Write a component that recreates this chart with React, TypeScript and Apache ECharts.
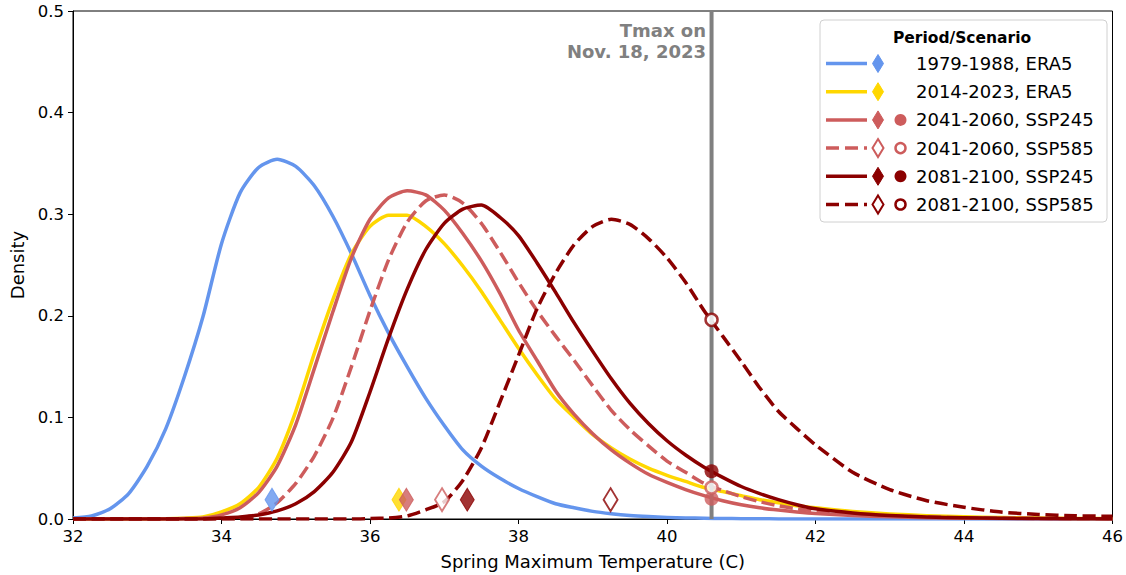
import React, { useEffect, useRef } from "react";
import * as echarts from "echarts";

const temps = [
  32, 32.25, 32.5, 32.75, 33, 33.25, 33.5, 33.75, 34, 34.25, 34.5, 34.75, 35, 35.25, 35.5, 35.75,
  36, 36.25, 36.5, 36.75, 37, 37.25, 37.5, 37.75, 38, 38.25, 38.5, 38.75, 39, 39.25, 39.5, 39.75,
  40, 40.25, 40.5, 40.75, 41, 41.25, 41.5, 41.75, 42, 42.5, 43, 43.5, 44, 44.5, 45, 45.5, 46,
];

const density1979ERA5 = [
  0.001, 0.003, 0.01, 0.025, 0.052, 0.089, 0.14, 0.199, 0.271, 0.321, 0.346, 0.354, 0.347, 0.328, 0.298, 0.261,
  0.22, 0.183, 0.15, 0.119, 0.092, 0.068, 0.052, 0.04, 0.03, 0.022, 0.015, 0.011, 0.0075, 0.0052, 0.0035, 0.0024,
  0.0016, 0.0011, 0.0007, 0.0005, 0.0003, 0.0002, 0.0001, 0.0001, 0, 0, 0, 0, 0, 0, 0, 0, 0,
];

const density2014ERA5 = [
  0, 0, 0, 0, 0, 0.0002, 0.0008, 0.002, 0.007, 0.015, 0.031, 0.06, 0.106, 0.163, 0.216, 0.261,
  0.288, 0.299, 0.299, 0.288, 0.271, 0.249, 0.224, 0.196, 0.168, 0.142, 0.118, 0.1, 0.083, 0.07, 0.059, 0.05,
  0.043, 0.037, 0.031, 0.027, 0.023, 0.019, 0.016, 0.013, 0.011, 0.0075, 0.005, 0.0033, 0.0022, 0.0014, 0.0009, 0.0006, 0.0004,
];

const density2041SSP245 = [
  0, 0, 0, 0, 0, 0, 0.0004, 0.001, 0.004, 0.011, 0.026, 0.052, 0.093, 0.148, 0.204, 0.257,
  0.295, 0.316, 0.323, 0.319, 0.304, 0.281, 0.254, 0.222, 0.186, 0.156, 0.126, 0.103, 0.084, 0.068, 0.055, 0.044,
  0.036, 0.029, 0.023, 0.018, 0.014, 0.011, 0.0088, 0.007, 0.0055, 0.0034, 0.0021, 0.0013, 0.0008, 0.0005, 0.0003, 0.0002, 0.0001,
];

const density2041SSP585 = [
  0, 0, 0, 0, 0, 0, 0, 0.0002, 0.0005, 0.001, 0.005, 0.016, 0.035, 0.062, 0.099, 0.15,
  0.205, 0.255, 0.292, 0.313, 0.319, 0.311, 0.291, 0.263, 0.233, 0.205, 0.18, 0.156, 0.131, 0.107, 0.088, 0.072,
  0.057, 0.046, 0.035, 0.028, 0.022, 0.017, 0.013, 0.01, 0.008, 0.005, 0.003, 0.002, 0.0012, 0.0008, 0.0005, 0.0003, 0.0002,
];

const density2081SSP245 = [
  0, 0, 0, 0, 0, 0, 0, 0, 0.001, 0.002, 0.004, 0.008, 0.015, 0.027, 0.046, 0.076,
  0.125, 0.178, 0.226, 0.265, 0.291, 0.305, 0.309, 0.297, 0.279, 0.252, 0.223, 0.193, 0.165, 0.138, 0.114, 0.094,
  0.077, 0.063, 0.051, 0.041, 0.032, 0.025, 0.019, 0.014, 0.01, 0.006, 0.0035, 0.002, 0.0012, 0.0007, 0.0004, 0.0002, 0.0001,
];

const density2081SSP585 = [
  0, 0, 0, 0, 0, 0, 0, 0, 0, 0, 0, 0, 0, 0, 0, 0,
  0.0005, 0.001, 0.003, 0.009, 0.017, 0.038, 0.07, 0.115, 0.161, 0.207, 0.242, 0.27, 0.288, 0.295, 0.29, 0.276,
  0.257, 0.233, 0.205, 0.18, 0.155, 0.129, 0.106, 0.089, 0.073, 0.046, 0.029, 0.018, 0.0115, 0.0068, 0.0045, 0.0032, 0.0026,
];

const scenarioLabels = [
  "1979-1988, ERA5",
  "2014-2023, ERA5",
  "2041-2060, SSP245",
  "2041-2060, SSP585",
  "2081-2100, SSP245",
  "2081-2100, SSP585",
];

// Diamond markers near the bottom (location of distribution centre)
const diamondTemps = [34.68, 36.39, 36.49, 36.97, 37.31, 39.24];
const diamondDensity = 0.019;

// Record Tmax (Nov. 18, 2023) and the density of each projection at it
const tmaxRecord = 40.6;
const tmaxDensity: (number | null)[] = [null, null, 0.02, 0.031, 0.047, 0.196];

const xTickMin = 32;
const xTickMax = 46;
const xTickStep = 2;
const yTickMin = 0;
const yTickMax = 0.5;
const yTickStep = 0.1;

const curves = [
  density1979ERA5,
  density2014ERA5,
  density2041SSP245,
  density2041SSP585,
  density2081SSP245,
  density2081SSP585,
];

const colors = ["#6495ED", "#FFD700", "#CD5C5C", "#CD5C5C", "#8B0000", "#8B0000"];
const dashed = [false, false, false, true, false, true];
const FONT = '"DejaVu Sans", sans-serif';
const DASH = [13, 5.6];

export default function App() {
  const ref = useRef<HTMLDivElement>(null);

  useEffect(() => {
    if (!ref.current) return;
    const chart = echarts.init(ref.current, null, { renderer: "svg" });

    const series: any[] = [];
    curves.forEach((vals, i) => {
      series.push({
        type: "line",
        name: scenarioLabels[i],
        data: temps.map((t, j) => [t, vals[j]]),
        smooth: 0.22,
        showSymbol: false,
        symbol: "none",
        silent: true,
        z: 2 + i,
        lineStyle: {
          color: colors[i],
          width: 3.5,
          type: dashed[i] ? DASH : "solid",
          cap: "butt",
          join: "round",
        },
      });
    });

    // vertical line for record Tmax
    series.push({
      type: "line",
      data: [
        [tmaxRecord, yTickMin],
        [tmaxRecord, yTickMax],
      ],
      symbol: "none",
      silent: true,
      z: 10,
      lineStyle: { color: "#808080", width: 4 },
    });

    // diamonds
    curves.forEach((_, i) => {
      const open = dashed[i];
      series.push({
        type: "scatter",
        data: [[diamondTemps[i], diamondDensity]],
        symbol: "diamond",
        symbolSize: [14, 23],
        silent: true,
        z: 20,
        itemStyle: open
          ? { color: "#fff", borderColor: colors[i], borderWidth: 2 }
          : { color: colors[i], borderColor: colors[i], borderWidth: 1 },
      });
    });

    // circles at record Tmax
    curves.forEach((_, i) => {
      const v = tmaxDensity[i];
      if (v === null) return;
      const open = dashed[i];
      series.push({
        type: "scatter",
        data: [[tmaxRecord, v]],
        symbol: "circle",
        symbolSize: open ? 12 : 14,
        silent: true,
        z: 21,
        itemStyle: open
          ? { color: "#fff", borderColor: colors[i], borderWidth: 2.5 }
          : { color: colors[i] },
      });
    });

    // legend built with graphic elements
    const legendX = 820;
    const legendY = 20;
    const rowY0 = 63.5;
    const rowStep = 28.2;
    const graphics: any[] = [
      {
        type: "rect",
        z: 100,
        shape: { x: legendX, y: legendY, width: 287, height: 202, r: 4 },
        style: { fill: "rgba(255,255,255,0.85)", stroke: "#d0d0d0", lineWidth: 1 },
      },
      {
        type: "text",
        z: 101,
        x: 962,
        y: 38,
        style: {
          text: "Period/Scenario",
          fill: "#000",
          fontSize: 15.5,
          fontWeight: "bold",
          fontFamily: FONT,
          align: "center",
          verticalAlign: "middle",
        },
      },
      {
        type: "text",
        z: 30,
        x: 706,
        y: 20,
        style: {
          text: "Tmax on\nNov. 18, 2023",
          fill: "#808080",
          fontSize: 18,
          fontWeight: "bold",
          fontFamily: FONT,
          align: "right",
          verticalAlign: "top",
          lineHeight: 21,
        },
      },
    ];

    scenarioLabels.forEach((label, i) => {
      const y = rowY0 + i * rowStep;
      const c = colors[i];
      const open = dashed[i];
      graphics.push({
        type: "line",
        z: 101,
        shape: { x1: 826, y1: y, x2: 867, y2: y },
        style: { stroke: c, lineWidth: 3.5, lineDash: open ? [13, 6] : null, lineCap: "butt" },
      });
      graphics.push({
        type: "polygon",
        z: 101,
        x: 878,
        y: y,
        shape: { points: [[0, -9], [5.5, 0], [0, 9], [-5.5, 0]] },
        style: open
          ? { fill: "#fff", stroke: c, lineWidth: 2 }
          : { fill: c, stroke: c, lineWidth: 1 },
      });
      if (i >= 2) {
        graphics.push({
          type: "circle",
          z: 101,
          shape: { cx: 900.5, cy: y, r: open ? 5 : 6 },
          style: open ? { fill: "#fff", stroke: c, lineWidth: 2.5 } : { fill: c },
        });
      }
      graphics.push({
        type: "text",
        z: 101,
        x: 916,
        y: y,
        style: {
          text: label,
          fill: "#000",
          fontSize: 18,
          fontFamily: FONT,
          align: "left",
          verticalAlign: "middle",
        },
      });
    });

    const option: any = {
      animation: false,
      backgroundColor: "#fff",
      textStyle: { fontFamily: FONT },
      grid: {
        left: 73,
        right: 11,
        top: 11,
        bottom: 55,
        show: true,
        borderColor: "#000",
        borderWidth: 1,
        backgroundColor: "transparent",
      },
      xAxis: {
        type: "value",
        min: xTickMin,
        max: xTickMax,
        interval: xTickStep,
        name: "Spring Maximum Temperature (C)",
        nameLocation: "middle",
        nameGap: 33,
        nameTextStyle: { fontSize: 18, color: "#000", fontFamily: FONT },
        axisLine: { show: true, lineStyle: { color: "#000", width: 1 } },
        axisTick: { show: true, length: 5, lineStyle: { color: "#000" } },
        axisLabel: { fontSize: 16.5, color: "#000", margin: 9, fontFamily: FONT },
        splitLine: { show: false },
      },
      yAxis: {
        type: "value",
        min: yTickMin,
        max: yTickMax,
        interval: yTickStep,
        name: "Density",
        nameLocation: "middle",
        nameGap: 44,
        nameTextStyle: { fontSize: 18, color: "#000", fontFamily: FONT },
        axisLine: { show: true, lineStyle: { color: "#000", width: 1 } },
        axisTick: { show: true, length: 5, lineStyle: { color: "#000" } },
        axisLabel: {
          fontSize: 16.5,
          color: "#000",
          margin: 9,
          fontFamily: FONT,
          formatter: (v: number) => v.toFixed(1),
        },
        splitLine: { show: false },
      },
      series,
      graphic: graphics,
    };

    chart.setOption(option);
    return () => chart.dispose();
  }, []);

  return (
    <div
      ref={ref}
      style={{ position: "fixed", left: 0, top: 0, width: 1126, height: 575, background: "#fff" }}
    />
  );
}
